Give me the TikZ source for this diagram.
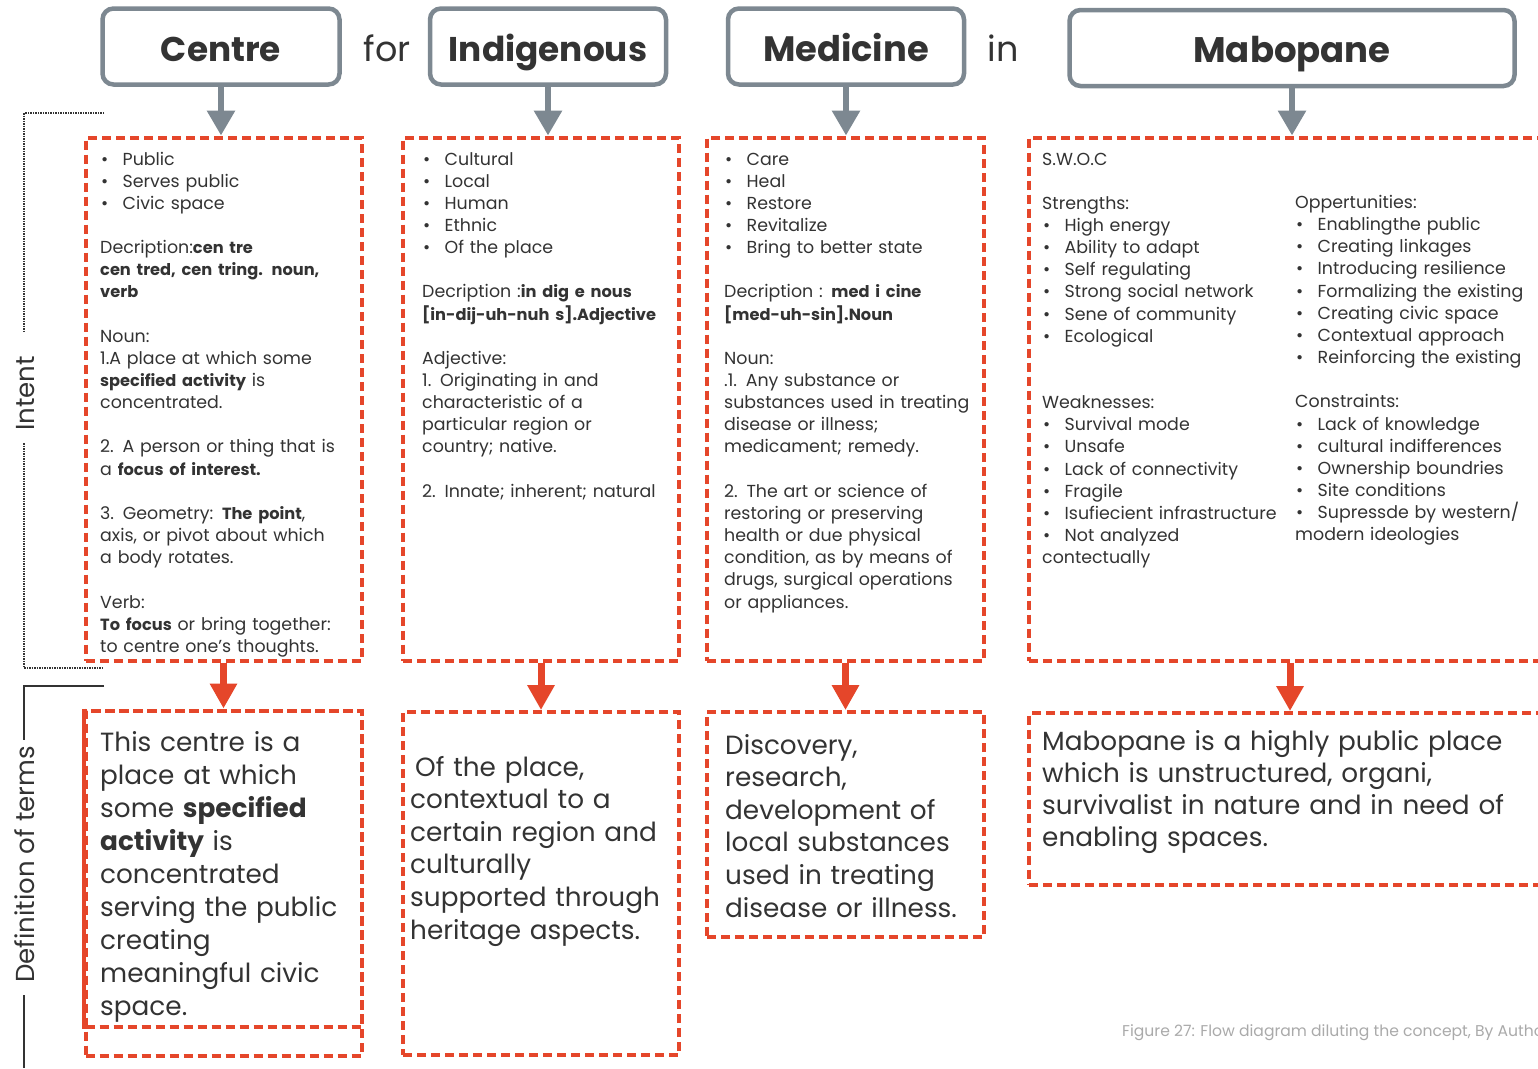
\documentclass[tikz,border=0pt]{standalone}
\usepackage{fontspec}
\setmainfont{Poppins}
\usetikzlibrary{arrows.meta}
\definecolor{txt}{HTML}{333333}
\definecolor{redd}{HTML}{E5462A}
\definecolor{hgray}{HTML}{7D8891}
\definecolor{capg}{HTML}{AAAAAA}
\newcommand\smf{\fontsize{17.4}{22.15}\selectfont}
\newcommand\sbf[1]{{\fontsize{16.2}{22.15}\selectfont\bfseries #1}}
\newcommand\bitm[1]{\makebox[22.5pt][l]{\hspace{1pt}\textbullet}#1}
\newcommand\gap{\mbox{}}
\begin{document}
\begin{tikzpicture}[x=1pt,y=-1pt,
  hdr/.style={draw=hgray, line width=4.5pt, rounded corners=11pt, minimum height=76pt, inner sep=0pt,
    font=\fontsize{#1}{40}\selectfont\bfseries, text=txt, text height=36pt, text depth=7pt},
  hdr/.default=35pt,
  redbox/.style={draw=redd, line width=4pt, dash pattern=on 9pt off 5pt, inner sep=0pt},
  garrow/.style={draw=hgray, line width=6pt, -{Triangle[width=27pt,length=25pt]}},
  rarrow/.style={draw=redd, line width=7pt, -{Triangle[width=26pt,length=25pt]}},
  txtblk/.style={anchor=base west, align=left, inner sep=0pt, text=txt, font=\smf, text width=#1},
  txtblk/.default=330pt,
  deftxt/.style={anchor=base west, align=left, inner sep=0pt, text=txt, text width=520pt, font=\fontsize{26.3}{#1}\selectfont},
  sidelab/.style={rotate=90, anchor=base, inner sep=0pt, text=txt, font=\fontsize{26}{28}\selectfont},
  joinword/.style={anchor=base, inner sep=0pt, text=txt, font=\fontsize{35}{40}\selectfont}
]
\fill[white] (0,0) rectangle (1538,1068);
\useasboundingbox (0,0) rectangle (1538,1068);

% headers
\node[hdr=34.3pt, minimum width=237pt] (h1) at (221,46.5) {Centre};
\node[joinword] (w1) at (387,61) {for};
\node[hdr=34.3pt, minimum width=236pt] (h2) at (548,46.5) {Indigenous};
\node[hdr=35.3pt, minimum width=236pt] (h3) at (846,46.5) {Medicine};
\node[joinword] (w2) at (1003,61) {in};
\node[hdr=35.5pt, minimum width=445pt] (h4) at (1292,48) {Mabopane};

% intent boxes
\node[redbox, minimum width=276pt, minimum height=523pt] (i1) at (223.5,399) {};
\node[redbox, minimum width=276pt, minimum height=523pt] (i2) at (541,399) {};
\node[redbox, minimum width=277pt, minimum height=523pt] (i3) at (845.5,399) {};
\node[redbox, minimum width=522pt, minimum height=523pt] (i4) at (1290,399) {};

% definition boxes
\node[redbox, minimum width=276pt, minimum height=345pt] (d1) at (223.5,883) {};
\node[redbox, minimum width=276pt, minimum height=316.5pt] (d1b) at (223.5,868.75) {};
\draw[redd, line width=4pt] (d1b.north west) -- (d1b.south west);
\node[redbox, minimum width=276pt, minimum height=343pt] (d2) at (541,883.5) {};
\node[redbox, minimum width=277pt, minimum height=225pt] (d3) at (845.5,824.5) {};
\node[redbox, minimum width=522pt, minimum height=171.5pt] (d4) at (1290,798.75) {};

% connectors
\draw[garrow] (h1.south) -- (h1.south |- i1.north);
\draw[garrow] (h2.south) -- (h2.south |- i2.north);
\draw[garrow] (h3.south) -- (h3.south |- i3.north);
\draw[garrow] (h4.south) -- (h4.south |- i4.north);
\draw[rarrow] (i1.south) -- (d1.north);
\draw[rarrow] (i2.south) -- (d2.north);
\draw[rarrow] (i3.south) -- (d3.north);
\draw[rarrow] (i4.south) -- (d4.north);

% intent texts
\node[txtblk] (t1) at (100,165) {%
\bitm{Public}\\
\bitm{Serves public}\\
\bitm{Civic space}\\
\gap\\
Decription:\sbf{cen tre}\\
\sbf{cen tred, cen tring. noun,}\\
\sbf{verb}\\
\gap\\
Noun:\\
1.A place at which some\\
\sbf{specified activity} is\\
concentrated.\\
\gap\\
2. A person or thing that is\\
a \sbf{focus of interest.}\\
\gap\\
3. Geometry: \sbf{The point},\\
axis, or pivot about which\\
a body rotates.\\
\gap\\
Verb:\\
\sbf{To focus} or bring together:\\
to centre one's thoughts.};

\node[txtblk] (t2) at (422,165) {%
\bitm{Cultural}\\
\bitm{Local}\\
\bitm{Human}\\
\bitm{Ethnic}\\
\bitm{Of the place}\\
\gap\\
Decription :\sbf{in dig e nous}\\
\sbf{[in-dij-uh-nuh s].Adjective}\\
\gap\\
Adjective:\\
1. Originating in and\\
characteristic of a\\
particular region or\\
country; native.\\
\gap\\
2. Innate; inherent; natural};

\node[txtblk] (t3) at (724,165) {%
\bitm{Care}\\
\bitm{Heal}\\
\bitm{Restore}\\
\bitm{Revitalize}\\
\bitm{Bring to better state}\\
\gap\\
Decription : \sbf{med i cine}\\
\sbf{[med-uh-sin].Noun}\\
\gap\\
Noun:\\
.1. Any substance or\\
substances used in treating\\
disease or illness;\\
medicament; remedy.\\
\gap\\
2. The art or science of\\
restoring or preserving\\
health or due physical\\
condition, as by means of\\
drugs, surgical operations\\
or appliances.};

\node[txtblk] (t4) at (1042,165) {%
S.W.O.C\\
\gap\\
Strengths:\\
\bitm{High energy}\\
\bitm{Ability to adapt}\\
\bitm{Self regulating}\\
\bitm{Strong social network}\\
\bitm{Sene of community}\\
\bitm{Ecological}\\
\gap\\
\gap\\
Weaknesses:\\
\bitm{Survival mode}\\
\bitm{Unsafe}\\
\bitm{Lack of connectivity}\\
\bitm{Fragile}\\
\bitm{Isufiecient infrastructure}\\
\bitm{Not analyzed}\\
contectually};

\node[txtblk] (t5) at (1295,208.5) {%
Oppertunities:\\
\bitm{Enablingthe public}\\
\bitm{Creating linkages}\\
\bitm{Introducing resilience}\\
\bitm{Formalizing the existing}\\
\bitm{Creating civic space}\\
\bitm{Contextual approach}\\
\bitm{Reinforcing the existing}\\
\gap\\
Constraints:\\
\bitm{Lack of knowledge}\\
\bitm{cultural indifferences}\\
\bitm{Ownership boundries}\\
\bitm{Site conditions}\\
\bitm{Supressde by western/}\\
modern ideologies};

% definition texts
\node[deftxt=33.1pt] (e1) at (100,751) {%
This centre is a\\
place at which\\
some \textbf{specified}\\
\textbf{activity} is\\
concentrated\\
serving the public\\
creating\\
meaningful civic\\
space.};

\node[deftxt=32.6pt] (e2) at (410,776) {%
\hspace{5pt}Of the place,\\
contextual to a\\
certain region and\\
culturally\\
supported through\\
heritage aspects.};

\node[deftxt=32.6pt] (e3) at (725,754) {%
Discovery,\\
research,\\
development of\\
local substances\\
used in treating\\
disease or illness.};

\node[deftxt=32.3pt] (e4) at (1042,750) {%
Mabopane is a highly public place\\
which is unstructured, organi,\\
survivalist in nature and in need of\\
enabling spaces.};

% side labels and brackets
\node[sidelab] (lab1) at (34,393.5) {Intent};
\node[sidelab] (lab2) at (34,864.5) {Definition of terms};
\draw[txt, line width=1.5pt, dash pattern=on 1.5pt off 1pt]
  (104,113) -- (24,113) -- (24,332) (24,443) -- (24,668) -- (104,668);
\draw[txt, line width=1.5pt] (104,686) -- (24,686) -- (24,740) (24,995) -- (24,1068);

% caption
\node[anchor=base west, inner sep=0pt, text=capg, font=\fontsize{15.6}{17}\selectfont] (cap) at (1122,1036)
  {Figure 27: Flow diagram diluting the concept, By Author};
\end{tikzpicture}
\end{document}
